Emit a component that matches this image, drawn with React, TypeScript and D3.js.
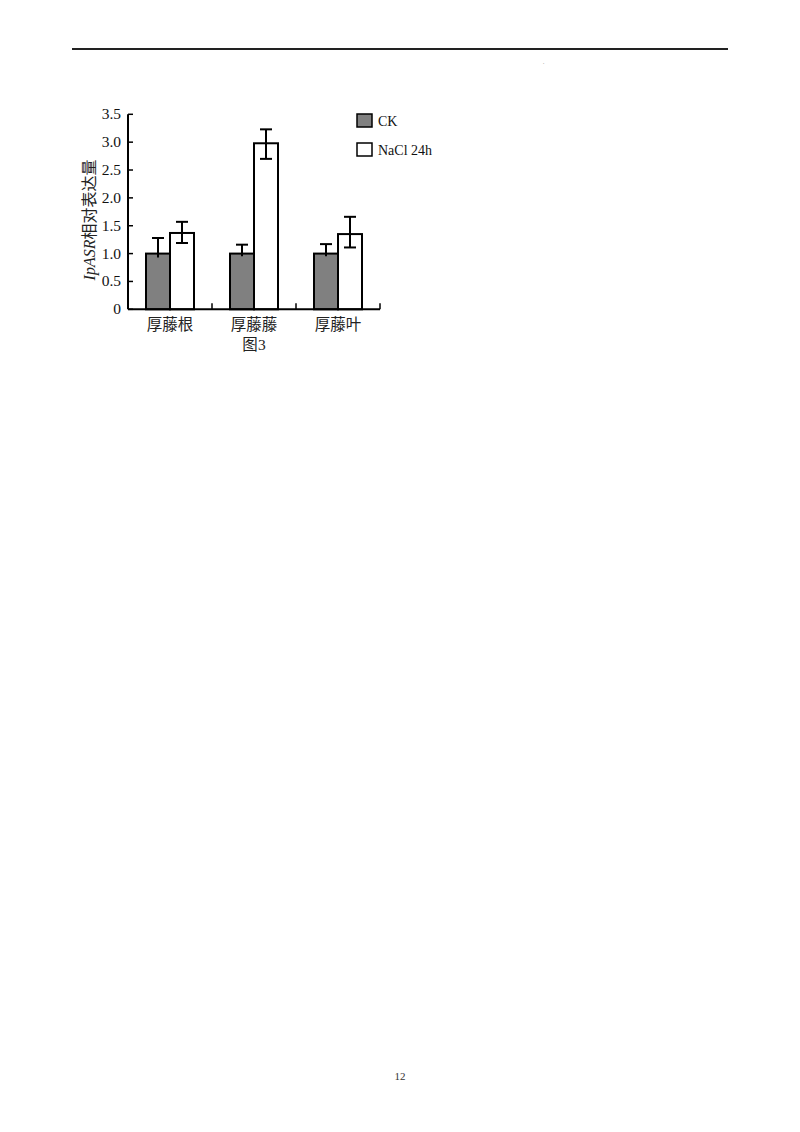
import React from "react";
import * as d3 from "d3";

const categories = ["厚藤根", "厚藤藤", "厚藤叶"];
const seriesNames = ["CK", "NaCl 24h"];
const ckValues = [1.0, 1.0, 1.0];
const ckHigh = [1.28, 1.16, 1.17];
const ckLow = [0.93, 0.95, 0.95];
const naclValues = [1.37, 2.98, 1.35];
const naclHigh = [1.57, 3.23, 1.66];
const naclLow = [1.19, 2.7, 1.11];
const yTicks = [0, 0.5, 1.0, 1.5, 2.0, 2.5, 3.0, 3.5];

export default function App() {
  const x0 = 128, x1 = 380, yTop = 114.3, yBot = 309.3;
  const y = d3.scaleLinear().domain([0, 3.5]).range([yBot, yTop]);
  const xb = d3.scaleBand<string>().domain(categories).range([x0, x1]).padding(0);
  const inner = d3.scaleBand<string>().domain(seriesNames).range([0, 48]).padding(0);
  const serif = "'Liberation Serif', 'Times New Roman', serif";
  const cjk = "'Noto Sans CJK SC', sans-serif";
  const series = [
    { name: "CK", vals: ckValues, hi: ckHigh, lo: ckLow, fill: "#808080", lowCap: false },
    { name: "NaCl 24h", vals: naclValues, hi: naclHigh, lo: naclLow, fill: "#ffffff", lowCap: true },
  ];
  return (
    <svg width={800} height={1132} style={{ position: "absolute", left: 0, top: 0, background: "#fff" }}>
      <line x1={72} x2={728} y1={49} y2={49} stroke="#222" strokeWidth={2.2} />
      <text x={543} y={63} fontSize={5} fill="#777" fontFamily={serif}>,</text>
      {series.map((s) =>
        categories.map((c, i) => {
          const bx = (xb(c) as number) + (xb.bandwidth() - 48) / 2 + (inner(s.name) as number);
          const w = inner.bandwidth();
          const cx = bx + w / 2;
          return (
            <g key={s.name + c}>
              <rect x={bx} y={y(s.vals[i])} width={w} height={yBot - y(s.vals[i])} fill={s.fill} stroke="#000" strokeWidth={2} />
              <line x1={cx} x2={cx} y1={y(s.hi[i])} y2={y(s.lo[i])} stroke="#000" strokeWidth={2} />
              <line x1={cx - 6} x2={cx + 6} y1={y(s.hi[i])} y2={y(s.hi[i])} stroke="#000" strokeWidth={2} />
              {s.lowCap && <line x1={cx - 6} x2={cx + 6} y1={y(s.lo[i])} y2={y(s.lo[i])} stroke="#000" strokeWidth={2} />}
            </g>
          );
        })
      )}
      <line x1={x0} x2={x0} y1={yTop} y2={yBot} stroke="#000" strokeWidth={2} />
      <line x1={x0} x2={x1} y1={yBot} y2={yBot} stroke="#000" strokeWidth={2} />
      {yTicks.map((t) => (
        <g key={t}>
          <line x1={x0} x2={x0 + 5} y1={y(t)} y2={y(t)} stroke="#000" strokeWidth={1.5} />
          <text x={121} y={y(t) + 5} textAnchor="end" fontSize={15.5} fontFamily={serif} fill="#111">
            {t === 0 ? "0" : t.toFixed(1)}
          </text>
        </g>
      ))}
      {categories.map((c) => {
        const right = (xb(c) as number) + xb.bandwidth();
        return <line key={c} x1={right} x2={right} y1={yBot} y2={yBot - 6} stroke="#000" strokeWidth={1.5} />;
      })}
      {categories.map((c) => (
        <text key={c} x={(xb(c) as number) + xb.bandwidth() / 2} y={330} textAnchor="middle" fontSize={15.5} fontFamily={cjk} fill="#222">
          {c}
        </text>
      ))}
      <text x={254} y={350} textAnchor="middle" fontSize={15.5} fontFamily={cjk} fill="#222">
        图<tspan fontFamily={serif}>3</tspan>
      </text>
      <text transform="translate(95,220) rotate(-90)" textAnchor="middle" fontSize={16} fill="#222">
        <tspan fontFamily={serif} fontStyle="italic">IpASR</tspan>
        <tspan fontFamily={cjk}>相对表达量</tspan>
      </text>
      <rect x={357} y={114} width={15} height={13} fill="#808080" stroke="#000" strokeWidth={1.5} />
      <text x={378} y={126} fontSize={14} fontFamily={serif} fill="#111">CK</text>
      <rect x={357} y={143} width={15} height={13} fill="#fff" stroke="#000" strokeWidth={1.5} />
      <text x={378} y={155} fontSize={14} fontFamily={serif} fill="#111">NaCl 24h</text>
      <text x={400} y={1080} textAnchor="middle" fontSize={11} fontFamily={serif} fill="#333">12</text>
    </svg>
  );
}
